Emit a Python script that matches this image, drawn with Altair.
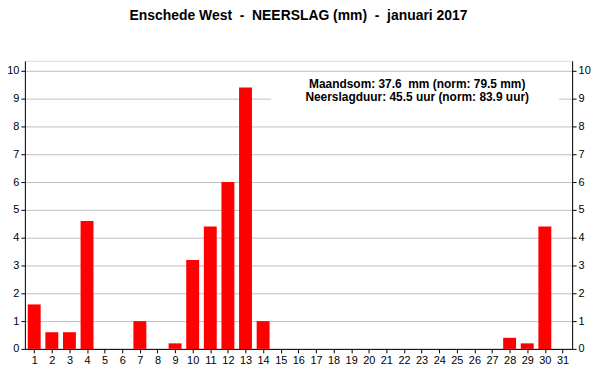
import altair as alt
import pandas as pd

days = list(range(1, 32))
rain = [1.6, 0.6, 0.6, 4.6, 0.0, 0.0, 1.0, 0.0, 0.2, 3.2,
        4.4, 6.0, 9.4, 1.0, 0.0, 0.0, 0.0, 0.0, 0.0, 0.0,
        0.0, 0.0, 0.0, 0.0, 0.0, 0.0, 0.0, 0.4, 0.2, 4.4, 0.0]
y_ticks = list(range(0, 11))
title_text = "Enschede West \u00a0-\u00a0 NEERSLAG (mm) \u00a0-\u00a0 januari 2017"
note_lines = ["Maandsom: 37.6 \u00a0mm (norm: 79.5 mm)",
              "Neerslagduur: 45.5 uur (norm: 83.9 uur)"]

df = pd.DataFrame({"day": days, "rain": rain})

FONT = "Liberation Sans"
xscale = alt.Scale(domain=[0.47, 31.55], nice=False, zero=False, padding=0)
yscale = alt.Scale(domain=[0, 10.36], nice=False, padding=0)

xaxis = alt.Axis(values=days, title=None, grid=False, tickSize=4, labelPadding=2,
                 domainColor="black", tickColor="black", labelColor="black",
                 labelFont=FONT, labelFontSize=11, labelFlush=False)

bars = alt.Chart(df).mark_bar(color="#ff0000", size=13).encode(
    x=alt.X("day:Q", scale=xscale, axis=xaxis),
    y=alt.Y("rain:Q", scale=yscale,
            axis=alt.Axis(values=y_ticks, title=None, grid=True, gridColor="#c0c0c0",
                          tickSize=4, labelPadding=2, domainColor="black",
                          tickColor="black", labelColor="black", labelFont=FONT,
                          labelFontSize=11)),
)

right = alt.Chart(df).mark_rule(opacity=0).encode(
    y=alt.Y("rain:Q", scale=yscale,
            axis=alt.Axis(orient="right", values=y_ticks, title=None, grid=False,
                          tickSize=4, labelPadding=2, domainColor="black",
                          tickColor="black", labelColor="black", labelFont=FONT,
                          labelFontSize=11)),
)

box = alt.Chart(pd.DataFrame({"a": [0]})).mark_rect(color="white").encode(
    x=alt.value(248), x2=alt.value(538), y=alt.value(13), y2=alt.value(46)
)

note_df = pd.DataFrame({"t": note_lines, "i": [0, 1]})
note = alt.Chart(note_df).mark_text(
    font=FONT, fontSize=12, fontWeight="bold", color="black", baseline="alphabetic",
    align="center"
).encode(
    text="t:N",
    x=alt.value(395),
    y=alt.Y("i:Q", scale=alt.Scale(domain=[0, 1], range=[27, 40]), axis=None),
)

chart = alt.layer(bars, right, box, note).resolve_scale(y="independent").properties(
    width=551, height=290,
    title=alt.TitleParams(text=title_text, font=FONT, fontSize=14, fontWeight="bold",
                          color="black", anchor="middle", offset=38),
    autosize=alt.AutoSizeParams(type="none"),
    padding={"left": 17, "top": 52, "right": 20, "bottom": 20},
).configure_view(stroke="black", strokeWidth=1).configure(background="white")

chart.save("out.html", embed_options={"renderer": "svg", "actions": False})
